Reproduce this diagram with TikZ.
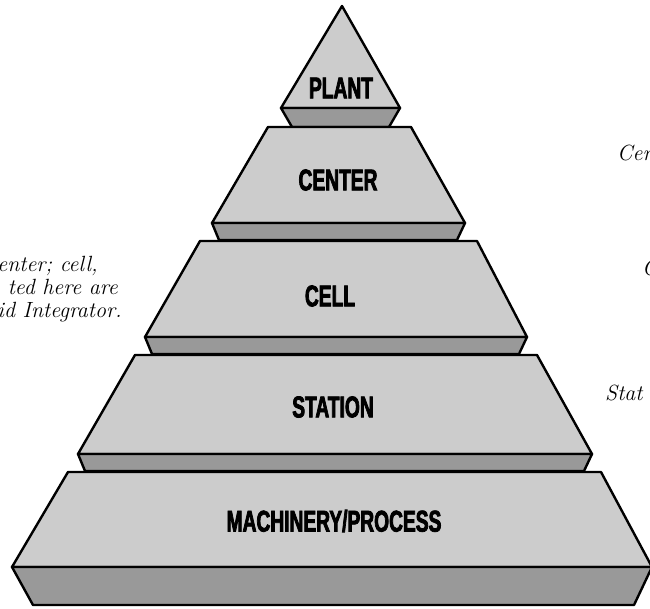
\documentclass[tikz,border=0pt]{standalone}
\usepackage{fontspec}
\newfontfamily\tierfont[FakeStretch=0.64,FakeBold=2.5]{Liberation Sans}
\begin{document}
\begin{tikzpicture}[x=1pt,y=-1pt,
      face/.style={draw,fill=black!20,line width=2.4pt,line join=round},
      band/.style={draw,fill=black!40,line width=2.4pt,line join=round},
      tier/.style={font=\tierfont\bfseries\fontsize{30}{30}\selectfont,inner sep=0pt},
      note/.style={font=\fontsize{22}{23}\selectfont\itshape,inner sep=0pt}]
    \useasboundingbox (0,0) rectangle (650,608);
    \clip (0,0) rectangle (650,608);
    \draw[face] (342,6) -- (400,108) -- (281,108) -- cycle;
    \draw[band] (281,108) -- (400,108) -- (389,127) -- (292,127) -- cycle;
    \draw[face] (268,127) -- (411,127) -- (465,223) -- (212,223) -- cycle;
    \draw[band] (212,223) -- (465,223) -- (457,240) -- (219,240) -- cycle;
    \draw[face] (200,241) -- (477,241) -- (527,337) -- (145,337) -- cycle;
    \draw[band] (145,337) -- (527,337) -- (519,354) -- (152,354) -- cycle;
    \draw[face] (135,355) -- (537,355) -- (592,454) -- (78,454) -- cycle;
    \draw[band] (78,454) -- (592,454) -- (584,471) -- (85,471) -- cycle;
    \draw[face] (68,472) -- (601,472) -- (652,567) -- (12,567) -- cycle;
    \draw[band] (12,567) -- (652,567) -- (634,605) -- (33,605) -- cycle;
    \node[tier] (plant) at (341,88) {PLANT};
    \node[tier] (center) at (338,180) {CENTER};
    \node[tier] (cell) at (330,296) {CELL};
    \node[tier] (station) at (333,407) {STATION};
    \node[tier] (machinery) at (334,521) {MACHINERY/PROCESS};
    \node[note,anchor=base east] (leftA) at (98,271) {enter; cell,};
    \node[note,anchor=base east] (leftB) at (118,294) {ted here are};
    \node[note,anchor=base east] (leftC) at (122,317) {id Integrator.};
    \node[note,anchor=base west] (rightA) at (617,160) {Cen};
    \node[note,anchor=base west] (rightB) at (642,275) {C};
    \node[note,anchor=base west] (rightC) at (605,400) {Stat};
\end{tikzpicture}
\end{document}
